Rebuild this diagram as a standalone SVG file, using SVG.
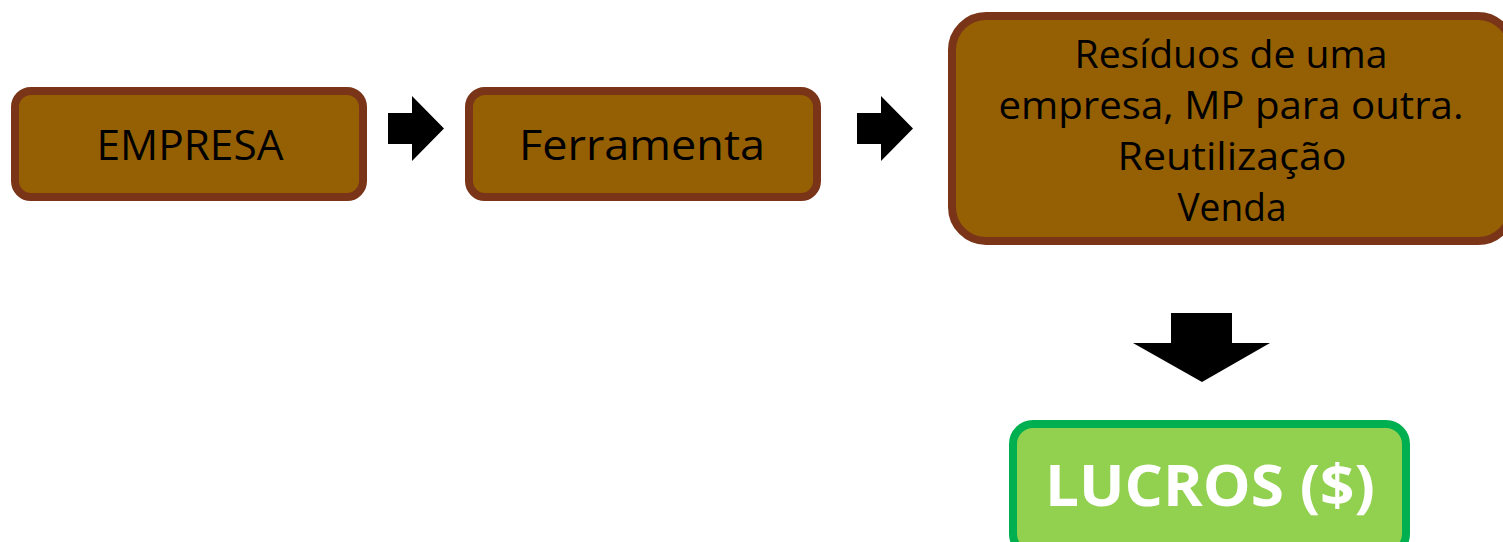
<svg xmlns="http://www.w3.org/2000/svg" width="1503" height="542" viewBox="0 0 1503 542">
<style>
.box{fill:#955F04;stroke:#7A3418;stroke-width:8}
.t{font-family:"Open Sans","DejaVu Sans",sans-serif;font-size:38px;fill:#000;text-anchor:middle}
.big{font-size:42px}
.g{fill:#92D050;stroke:#00B050;stroke-width:8}
.w{font-family:"Open Sans","DejaVu Sans",sans-serif;font-size:57px;font-weight:bold;fill:#fff;text-anchor:middle}
.arr{fill:#000}
</style>
<rect width="1503" height="542" fill="#fff"/>
<g id="empresa">
<rect class="box" x="15" y="91" width="348" height="106" rx="16"/>
<text class="t big" x="190" y="160" textLength="187" lengthAdjust="spacingAndGlyphs">EMPRESA</text>
</g>
<g id="ferramenta">
<rect class="box" x="469" y="91" width="348" height="106" rx="16"/>
<text class="t big" x="642" y="160" textLength="246" lengthAdjust="spacingAndGlyphs">Ferramenta</text>
</g>
<g id="residuos">
<rect class="box" x="952" y="16" width="560" height="225" rx="34"/>
<text class="t" x="1231" y="68" textLength="313" lengthAdjust="spacingAndGlyphs">Resíduos de uma</text>
<text class="t" x="1231" y="119" textLength="465" lengthAdjust="spacingAndGlyphs">empresa, MP para outra.</text>
<text class="t" x="1232" y="170" textLength="229" lengthAdjust="spacingAndGlyphs">Reutilização</text>
<text class="t" x="1232" y="221" textLength="109" lengthAdjust="spacingAndGlyphs">Venda</text>
</g>
<g id="lucros">
<rect class="g" x="1013" y="424" width="393" height="130" rx="20"/>
<text class="w" x="1210" y="506" textLength="330" lengthAdjust="spacingAndGlyphs">LUCROS ($)</text>
</g>
<g id="connectors">
<polygon class="arr" points="388,113 412,113 412,96 444,128.5 412,161 412,144 388,144"/>
<polygon class="arr" points="857,113 881,113 881,96 913,128.5 881,161 881,144 857,144"/>
<polygon class="arr" points="1171,313 1232,313 1232,343 1270,343 1202,382 1133,343 1171,343"/>
</g>
</svg>
